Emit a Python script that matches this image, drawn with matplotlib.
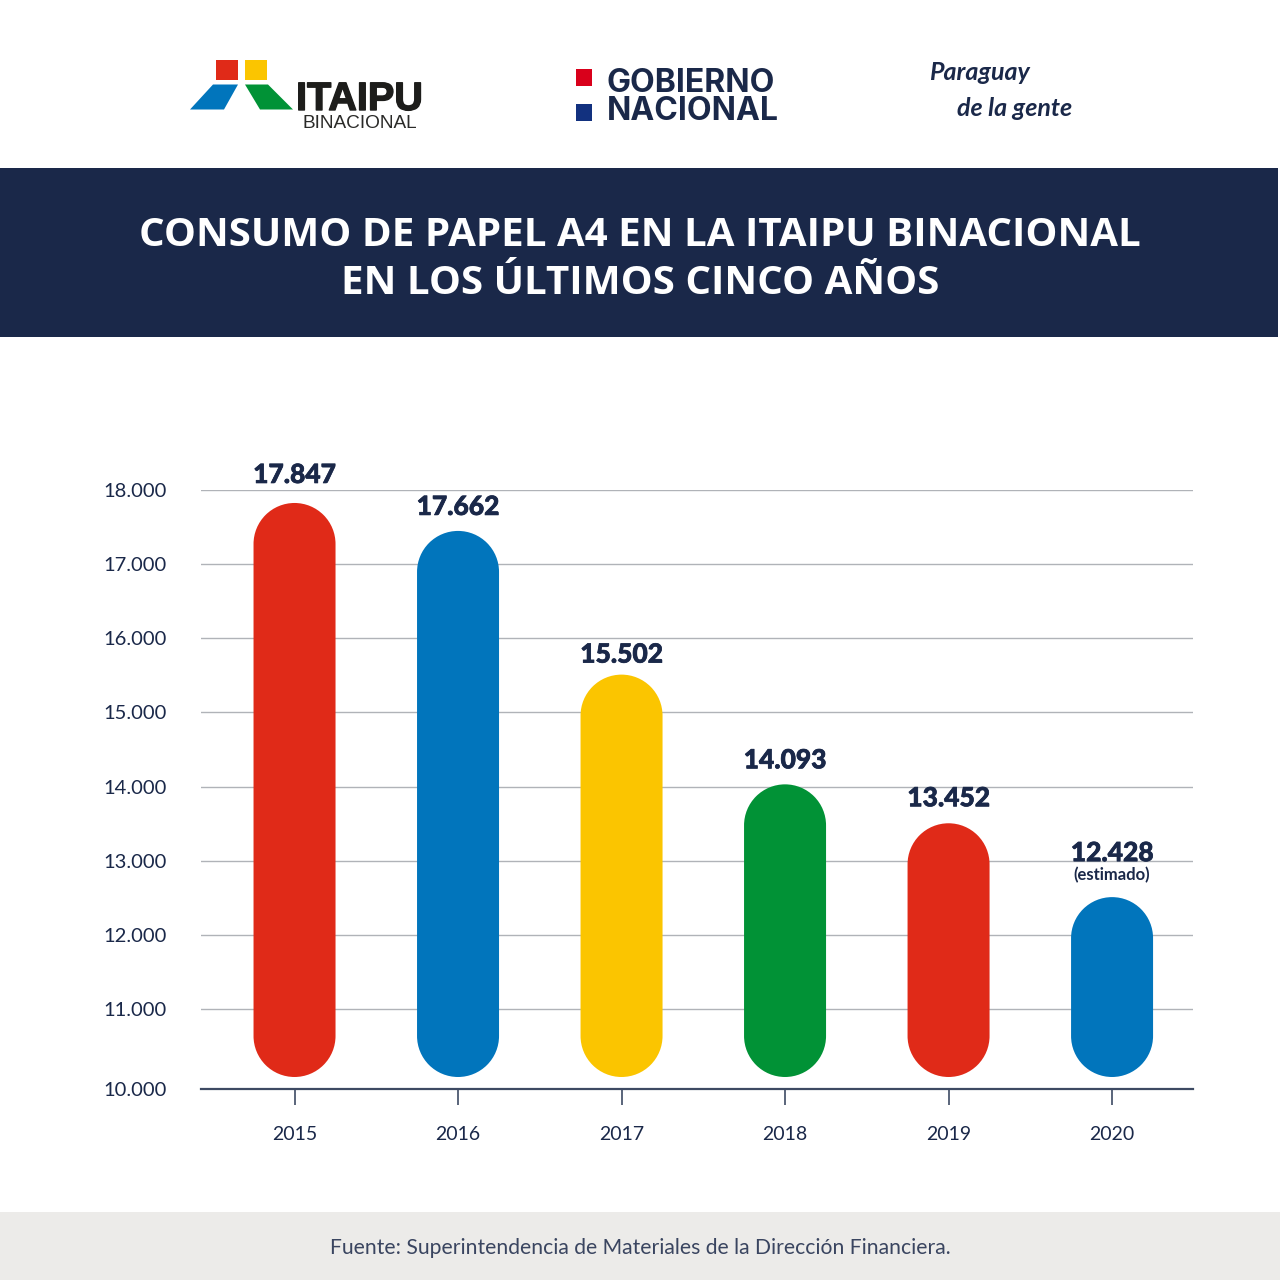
import numpy as np
import matplotlib
matplotlib.use("Agg")
import matplotlib.pyplot as plt
from matplotlib.patches import PathPatch, Polygon, Rectangle
from matplotlib.path import Path
from matplotlib.scale import FuncScale
from matplotlib.transforms import IdentityTransform
import matplotlib.patheffects as pe

years = ["2015", "2016", "2017", "2018", "2019", "2020"]
value_labels = ["17.847", "17.662", "15.502", "14.093", "13.452", "12.428"]
# Heights as drawn in the picture (the drawn bars differ a little from their labels)
bar_tops = [17825, 17448, 15510, 14030, 13505, 12509]
bar_base = 10150
tick_values = [10000, 11000, 12000, 13000, 14000, 15000, 16000, 17000, 18000]
tick_labels = ["10.000", "11.000", "12.000", "13.000", "14.000", "15.000", "16.000", "17.000", "18.000"]
colors = ["#E02A18", "#0175BC", "#FBC500", "#019236", "#E02A18", "#0175BC"]
label_gaps = [28, 24, 20, 24, 25, 44]

NAVY = "#1A2849"
W, H = 1280, 1280
fig = plt.figure(figsize=(12.8, 12.8), dpi=100, facecolor="white")

# page furniture in pixel coordinates
bg = fig.add_axes([0, 0, 1, 1])
bg.set_xlim(0, W); bg.set_ylim(H, 0); bg.axis("off")
bg.add_patch(Rectangle((0, 168), 1278, 169, color=NAVY, lw=0))
bg.add_patch(Rectangle((0, 1212), 1280, 68, color="#ECEBE9", lw=0))
bg.text(640, 236, "CONSUMO DE PAPEL A4 EN LA ITAIPU BINACIONAL", color="white", fontsize=29,
        family="Open Sans", weight="bold", ha="center", va="center")
bg.text(640, 284, "EN LOS ÚLTIMOS CINCO AÑOS", color="white", fontsize=29,
        family="Open Sans", weight="bold", ha="center", va="center")
bg.text(640, 1248, "Fuente: Superintendencia de Materiales de la Dirección Financiera.", color="#3A4560",
        fontsize=15.2, family="Lato", ha="center", va="center")

# Itaipu logo
bg.add_patch(Rectangle((216, 60), 22, 19.5, color="#E02A18", lw=0))
bg.add_patch(Rectangle((245, 60), 22, 19.5, color="#FBC500", lw=0))
bg.add_patch(Polygon([[190, 109.5], [224, 109.5], [238, 84.5], [213, 84.5]], color="#0175BC", lw=0))
bg.add_patch(Polygon([[245, 84.5], [268, 84.5], [293, 109.5], [260, 109.5]], color="#019236", lw=0))
bg.text(359.5, 99, "ITAIPU", color="#1D1D1B", fontsize=28.5, family="Liberation Sans", weight="bold",
        ha="center", va="center", path_effects=[pe.withStroke(linewidth=1, foreground="#1D1D1B")])
bg.text(359.5, 124, "BINACIONAL", color="#2A2A28", fontsize=13.7, family="Liberation Sans",
        ha="center", va="center")

# Gobierno Nacional logo
bg.add_patch(Rectangle((575.5, 69), 16, 17, color="#D9001B", lw=0))
bg.add_patch(Rectangle((575.5, 104), 16, 17, color="#12317F", lw=0))
bg.text(607, 83, "GOBIERNO", color=NAVY, fontsize=23, family="Inter", weight="bold", ha="left", va="center")
bg.text(607, 111, "NACIONAL", color=NAVY, fontsize=23, family="Inter", weight="bold", ha="left", va="center")

# Paraguay de la gente
bg.text(929, 72, "Paraguay", color=NAVY, fontsize=18, family="Lato", style="italic", weight="bold",
        ha="left", va="center")
bg.text(957, 109, "de la gente", color=NAVY, fontsize=18, family="Lato", style="italic", weight="bold",
        ha="left", va="center")

# chart
ax = fig.add_axes([201 / W, 1 - 1089 / H, (1193 - 201) / W, (1089 - 490) / H])
ax.patch.set_alpha(0)
scale_vals = [10000, 11000, 18000]
scale_pos = [0, 80, 599]
ax.set_yscale(FuncScale(ax, (lambda v: np.interp(v, scale_vals, scale_pos,
                                                 left=-1, right=600),
                             lambda p: np.interp(p, scale_pos, scale_vals))))
ax.set_ylim(10000, 18000)
x = np.arange(len(years))
ax.set_xlim(-0.572, 5.495)

ax.set_yticks(tick_values, tick_labels, family="Lato", fontsize=14.5, color=NAVY)
ax.set_xticks(x, years, family="Lato", fontsize=14, color=NAVY)
ax.tick_params(axis="y", length=0, pad=24.5)
ax.tick_params(axis="x", length=11.5, width=1.2, color="#3D4A63", pad=15)
ax.grid(axis="y", color="#B0B3B8", lw=1)
ax.grid(axis="x", visible=False)
ax.set_axisbelow(True)
for s in ["top", "left", "right"]:
    ax.spines[s].set_visible(False)
ax.spines["bottom"].set_color("#3D4A63")
ax.spines["bottom"].set_linewidth(1.6)

half = 41
fig.canvas.draw()
display = IdentityTransform()
upper_arc = Path.arc(0, 180)
lower_arc = Path.arc(180, 360)
for xi, top, col, lab, gap in zip(x, bar_tops, colors, value_labels, label_gaps):
    px, py_top = ax.transData.transform((xi, top))
    _, py_base = ax.transData.transform((xi, bar_base))
    verts = np.vstack([upper_arc.vertices * half + (px, py_top - half),
                       lower_arc.vertices * half + (px, py_base + half),
                       [[px + half, py_top - half]]])
    codes = np.concatenate([upper_arc.codes, [Path.LINETO], lower_arc.codes[1:], [Path.CLOSEPOLY]])
    ax.add_patch(PathPatch(Path(verts, codes), transform=display, fc=col, ec="none", zorder=3))
    ax.annotate(lab, (xi, top), xytext=(0, gap * 0.72), textcoords="offset points",
                ha="center", va="center", fontsize=19, family="Lato", weight="black", color=NAVY,
                annotation_clip=False, zorder=4,
                path_effects=[pe.withStroke(linewidth=0.5, foreground=NAVY)])
ax.annotate("(estimado)", (x[-1], bar_tops[-1]), xytext=(0, 22 * 0.72), textcoords="offset points",
            ha="center", va="center", fontsize=12, family="Lato", weight="bold", color=NAVY,
            annotation_clip=False, zorder=4)

fig.savefig("out.png", dpi=100, facecolor="white")
